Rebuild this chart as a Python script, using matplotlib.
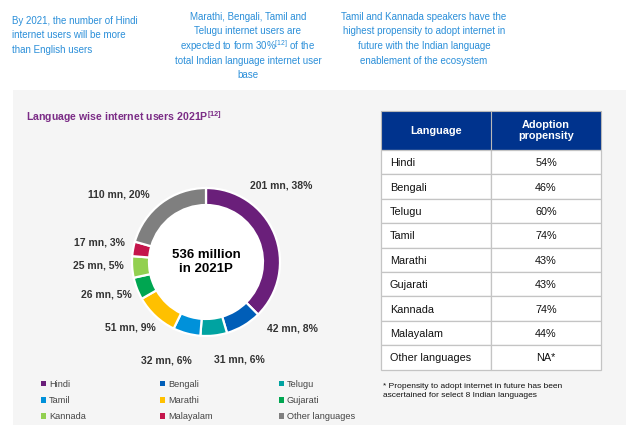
import numpy as np
import matplotlib
matplotlib.use("Agg")
from matplotlib import pyplot as plt
from matplotlib.patches import Rectangle, Circle

plt.rcParams['font.family'] = ['Liberation Sans', 'DejaVu Sans']
plt.rcParams['mathtext.fontset'] = 'custom'
plt.rcParams['mathtext.rm'] = 'Liberation Sans'
plt.rcParams['mathtext.bf'] = 'Liberation Sans:bold'

# data
languages = ["Hindi", "Bengali", "Telugu", "Tamil", "Marathi", "Gujarati",
             "Kannada", "Malayalam", "Other languages"]
users_mn = [201, 42, 31, 32, 51, 26, 25, 17, 110]
share_pct = [38, 8, 6, 6, 9, 5, 5, 3, 20]
colors = ["#6A1F7A", "#005EB8", "#00A3A1", "#0091DA", "#FFC000", "#00A651",
          "#92D050", "#C4154B", "#7F7F7F"]
table_langs = ["Hindi", "Bengali", "Telugu", "Tamil", "Marathi", "Gujarati",
               "Kannada", "Malayalam", "Other languages"]
propensity = ["54%", "46%", "60%", "74%", "43%", "43%", "74%", "44%", "NA*"]

note_left = ["By 2021, the number of Hindi", "internet users will be more",
             "than English users"]
note_mid = ["Marathi, Bengali, Tamil and", "Telugu internet users are",
            "expected to form 30%$^{[12]}$ of the",
            "total Indian language internet user", "base"]
note_right = ["Tamil and Kannada speakers have the",
              "highest propensity to adopt internet in",
              "future with the Indian language", "enablement of the ecosystem"]

W, H = 642, 433
fig = plt.figure(figsize=(W / 100, H / 100), dpi=100)
fig.patch.set_facecolor("white")

# overlay axes in pixel coords
bg = fig.add_axes([0, 0, 1, 1])
bg.set_xlim(0, W)
bg.set_ylim(H, 0)
bg.axis("off")

bg.add_patch(Rectangle((13, 90), 613, 335, facecolor="#F5F5F5", edgecolor="none"))

blue_txt = "#2B8FD9"
def note(lines, x, y, ha):
    for k, line in enumerate(lines):
        bg.text(x, y + k * 14.5, line, color=blue_txt, fontsize=7.0, ha=ha, va="center")

note(note_left, 12, 21, "left")
note(note_mid, 248, 17, "center")
note(note_right, 424, 17, "center")

bg.text(26, 117, r"Language wise internet users 2021P$^{\mathbf{[12]}}$",
        color="#7B2C86", fontsize=7.6, fontweight="bold", ha="left", va="center")

# table
x0, x1, x2 = 381, 491, 601
head_top, head_h, row_h = 111, 39, 24.4
bg.add_patch(Rectangle((x0, head_top), x2 - x0, head_h, facecolor="#00338D",
                       edgecolor="#B8B8B8", lw=0.8))
bg.plot([x1, x1], [head_top, head_top + head_h], color="#B8B8B8", lw=0.8)
bg.text((x0 + x1) / 2, head_top + head_h / 2, "Language", color="white",
        fontsize=7.8, fontweight="bold", ha="center", va="center")
bg.text((x1 + x2) / 2, head_top + head_h / 2, "Adoption\npropensity", color="white",
        fontsize=7.8, fontweight="bold", ha="center", va="center", linespacing=1.1)
for i, (lang, p) in enumerate(zip(table_langs, propensity)):
    y = head_top + head_h + i * row_h
    bg.add_patch(Rectangle((x0, y), x1 - x0, row_h, facecolor="white",
                           edgecolor="#C4C4C4", lw=0.9))
    bg.add_patch(Rectangle((x1, y), x2 - x1, row_h, facecolor="white",
                           edgecolor="#C4C4C4", lw=0.9))
    bg.text(x0 + 9, y + row_h / 2, lang, fontsize=7.8, ha="left", va="center_baseline", color="#111111")
    bg.text((x1 + x2) / 2, y + row_h / 2, p, fontsize=7.8, ha="center", va="center_baseline", color="#111111")

bg.text(383, 391, "* Propensity to adopt internet in future has been\n"
        "ascertained for select 8 Indian languages",
        fontsize=6.0, ha="left", va="center", color="#111111", linespacing=1.25)

# donut
cx, cy, R = 206, 262, 74
ax = fig.add_axes([(cx - R) / W, 1 - (cy + R) / H, 2 * R / W, 2 * R / H])
wedges, _ = ax.pie(users_mn, colors=colors, startangle=90, counterclock=False,
                   radius=1, wedgeprops=dict(width=0.23, edgecolor="white", linewidth=1.6))
ax.add_patch(Circle((0, 0), 0.77, facecolor="white", edgecolor="none", zorder=0))
ax.set_xlim(-1, 1)
ax.set_ylim(-1, 1)
ax.set_aspect("equal")
ax.axis("off")
ax.text(0, 0, "536 million\nin 2021P", fontsize=9.5, fontweight="bold",
        ha="center", va="center", linespacing=1.25)

# data labels, nudged from the wedge mid-angle like the original layout
nudge = [-23, -22, -13, 7, 6, 3, 2, 0, -15]
dist = [1.45, 1.47, 1.4, 1.43, 1.36, 1.42, 1.45, 1.47, 1.49]
for w, u, s, n, d in zip(wedges, users_mn, share_pct, nudge, dist):
    mid = (w.theta1 + w.theta2) / 2 - n
    a = np.deg2rad(mid)
    ax.text(d * np.cos(a), d * np.sin(a), f"{u} mn, {s}%", fontsize=7.5,
            fontweight="bold", ha="center", va="center", color="#333333")

# legend: three one-column legends so the columns sit evenly like the original
col_x = [41, 160, 279]
for c in range(3):
    idx = [c, c + 3, c + 6]
    handles = [Rectangle((0, 0), 1, 1, facecolor=colors[i], edgecolor="none") for i in idx]
    leg = fig.legend(handles, [languages[i] for i in idx],
                     ncol=1, loc="upper left", bbox_to_anchor=(col_x[c] / W, 1 - 380 / H),
                     frameon=False, fontsize=6.6, handlelength=0.5, handleheight=0.5,
                     handletextpad=0.35, labelspacing=0.78, borderaxespad=0, borderpad=0)
    for t in leg.get_texts():
        t.set_color("#444444")

fig.savefig("out.png", dpi=100, facecolor="white")
